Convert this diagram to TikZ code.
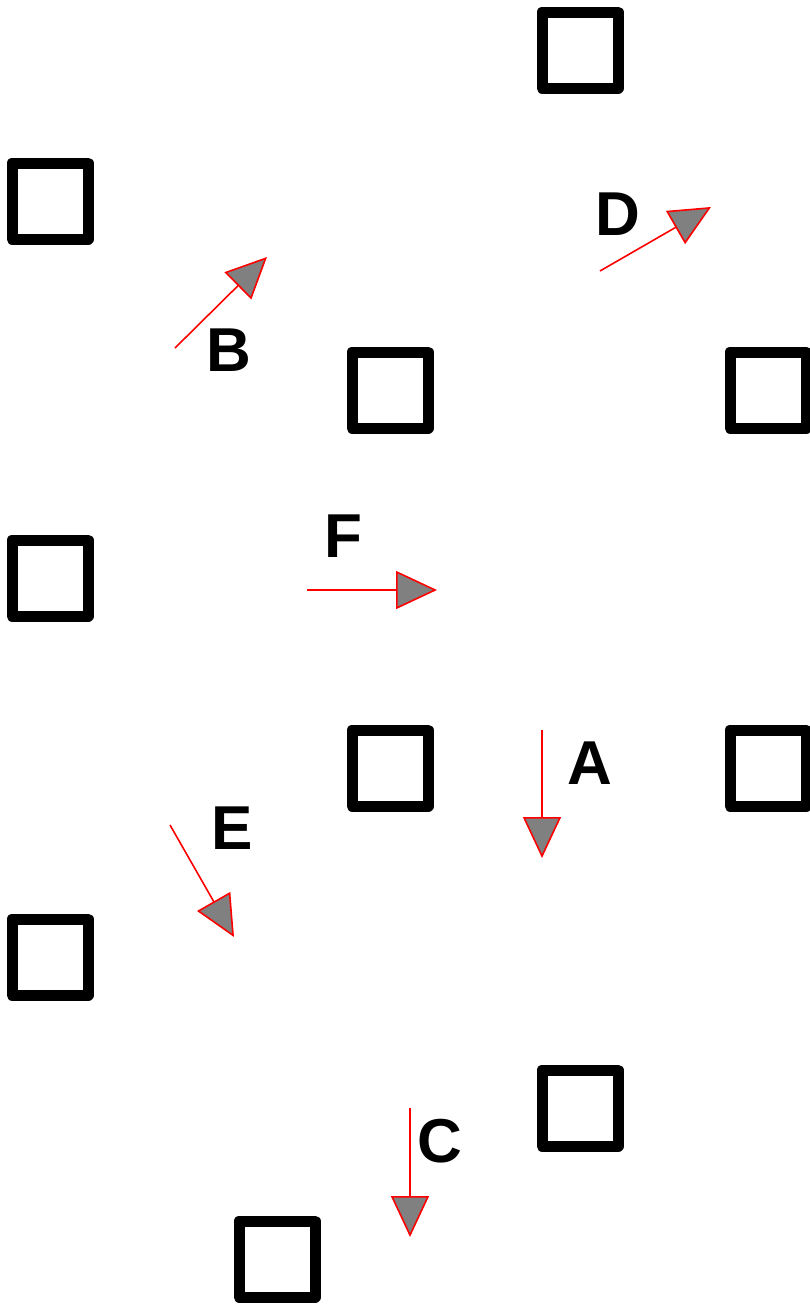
\documentclass[tikz,border=0pt]{standalone}
\usepackage{fontspec}
\setmainfont{Liberation Sans}
\usetikzlibrary{arrows.meta}
\begin{document}
\begin{tikzpicture}[
    x=1pt,y=-1pt,
    box/.style={draw,line width=11pt,line join=round,minimum size=76pt,inner sep=0pt},
    vec/.style={draw=red,line width=1.6pt,-{Triangle[length=41pt,width=38pt,fill=gray]}},
    lbl/.style={inner sep=0pt,font=\fontsize{62}{62}\selectfont\bfseries}]
    \useasboundingbox (0,0) rectangle (810,1304);
    \foreach \n/\p in {1/{(580,50)},2/{(50,201)},3/{(390,390)},4/{(768,390)},
        5/{(50,578)},6/{(390,768)},7/{(768,768)},8/{(50,957)},
        9/{(580,1108)},10/{(277,1259)}}
        \node[box] (sq\n) at \p {};
    \coordinate (A0) at (542,730);  \coordinate (A1) at (542,858);
    \coordinate (B0) at (175,348);  \coordinate (B1) at (267,257);
    \coordinate (C0) at (410,1108); \coordinate (C1) at (410,1237);
    \coordinate (D0) at (600,271);  \coordinate (D1) at (711,207);
    \coordinate (E0) at (170,825);  \coordinate (E1) at (234,937);
    \coordinate (F0) at (307,590);  \coordinate (F1) at (437,590);
    \foreach \v in {A,B,C,D,E,F}
        \draw[vec] (\v0) -- (\v1);
    \node[lbl] (labA) at (590,763) {A};
    \node[lbl] (labB) at (229,350) {B};
    \node[lbl] (labC) at (440,1141) {C};
    \node[lbl] (labD) at (618,214) {D};
    \node[lbl] (labE) at (232,828) {E};
    \node[lbl] (labF) at (343,536) {F};
\end{tikzpicture}
\end{document}
